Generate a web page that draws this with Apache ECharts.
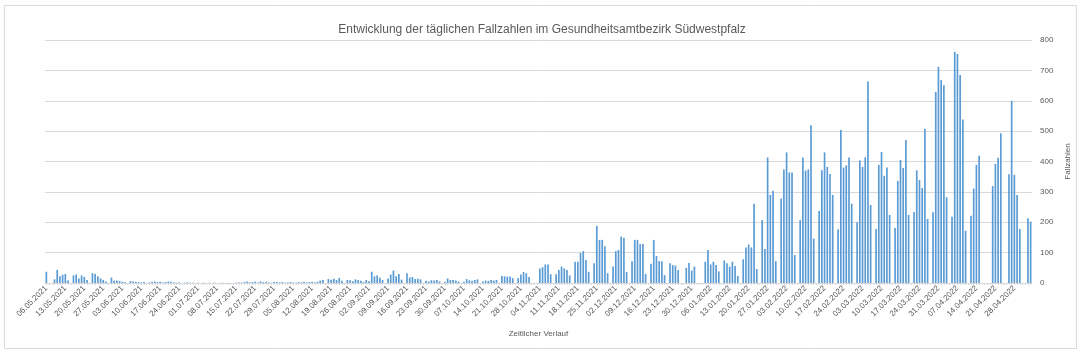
<!DOCTYPE html>
<html>
<head>
<meta charset="utf-8">
<title>Fallzahlen Südwestpfalz</title>
<script src="https://cdn.jsdelivr.net/npm/echarts@6/dist/echarts.min.js"></script>
<style>
    html, body { margin: 0; padding: 0; background: #ffffff; }
    #mychart { width: 1084px; height: 355px; }
</style>
</head>
<body>
<div id="mychart"></div>
<script>
    // erster Tag der Zeitreihe: 06.05.2021
    var startDatum = [2021, 4, 6];

    // tägliche Fallzahlen 06.05.2021 - 31.12.2021
    var faelle2021 = [
        37, 0, 0, 12, 43, 22, 27,
        30, 8, 0, 25, 28, 15, 25,
        20, 10, 0, 32, 30, 22, 15,
        10, 5, 0, 18, 8, 8, 6,
        4, 3, 0, 6, 5, 4, 3,
        2, 3, 0, 2, 4, 5, 3,
        4, 2, 3, 5, 4, 2, 1,
        2, 0, 1, 2, 1, 1, 0,
        1, 0, 1, 0, 1, 0, 1,
        0, 0, 1, 0, 1, 0, 0,
        1, 2, 1, 3, 5, 2, 3,
        4, 2, 5, 3, 4, 2, 1,
        4, 3, 2, 3, 1, 2, 3,
        2, 1, 3, 2, 4, 2, 3,
        4, 2, 4, 8, 10, 0, 13,
        11, 14, 10, 17, 7, 0, 10,
        9, 6, 12, 10, 7, 3, 10,
        6, 37, 22, 25, 17, 10, 0,
        15, 28, 41, 22, 30, 11, 0,
        32, 18, 20, 13, 14, 12, 0,
        7, 5, 9, 8, 10, 5, 0,
        4, 15, 10, 10, 8, 5, 0,
        4, 13, 9, 7, 10, 12, 0,
        5, 8, 7, 10, 8, 10, 0,
        23, 22, 21, 21, 16, 0, 16,
        28, 36, 32, 20, 0, 0, 0,
        48, 52, 61, 61, 29, 0, 29,
        43, 54, 48, 43, 25, 0, 70,
        70, 99, 105, 76, 37, 0, 65,
        188, 142, 142, 121, 32, 0, 54,
        105, 109, 153, 149, 36, 0, 72,
        142, 142, 128, 128, 30, 0, 63,
        142, 89, 72, 72, 26, 0, 65,
        59, 57, 43, 0, 0, 50, 66,
        41, 54
    ];

    // tägliche Fallzahlen 01.01.2022 - 04.05.2022
    var faelle2022 = [
        0, 0, 0, 70, 109,
        61, 70, 59, 38, 0, 74, 65,
        54, 70, 56, 23, 0, 78, 117,
        127, 117, 261, 46, 0, 207, 112,
        413, 290, 304, 72, 0, 278, 374,
        430, 364, 364, 92, 0, 207, 413,
        370, 374, 519, 146, 0, 237, 371,
        430, 382, 359, 290, 0, 177, 504,
        380, 387, 413, 261, 0, 200, 404,
        382, 414, 663, 257, 0, 178, 389,
        431, 353, 380, 224, 0, 181, 336,
        405, 379, 471, 224, 0, 234, 371,
        339, 313, 508, 211, 0, 233, 629,
        712, 668, 651, 282, 0, 218, 761,
        754, 685, 538, 172, 0, 221, 311,
        389, 419, 0, 0, 0, 0, 319,
        392, 412, 493, 0, 0, 358, 600,
        356, 290, 178, 0, 0, 213, 202
    ];

    // Werteachse
    var yMin = 0, yMax = 800, yIntervall = 100;

    var faelle = faelle2021.concat(faelle2022);

    function zweistellig(n) {
        return (n < 10 ? '0' : '') + n;
    }

    // Kategorien: ein Datum je Wert
    var tage = [];
    for (var i = 0; i < faelle.length; i++) {
        var d = new Date(Date.UTC(startDatum[0], startDatum[1], startDatum[2] + i));
        tage.push(zweistellig(d.getUTCDate()) + '.' + zweistellig(d.getUTCMonth() + 1) + '.' + d.getUTCFullYear());
    }

    var textFarbe = '#595959';
    var linienFarbe = '#d9d9d9';
    var schrift = 'Liberation Sans';

    var mychart = echarts.init(document.getElementById('mychart'));
    var option = {
        backgroundColor: '#ffffff',
        animation: false,
        title: {
            text: 'Entwicklung der täglichen Fallzahlen im Gesundheitsamtbezirk Südwestpfalz',
            left: 'center',
            top: 19,
            textStyle: {
                color: textFarbe,
                fontSize: 12,
                fontWeight: 'normal',
                fontFamily: schrift
            }
        },
        graphic: [{
            type: 'rect',
            shape: {x: 4.5, y: 5.5, width: 1072, height: 343},
            style: {fill: 'none', stroke: linienFarbe, lineWidth: 1},
            silent: true
        }],
        grid: {
            left: 45,
            right: 52,
            top: 40,
            bottom: 72
        },
        xAxis: {
            type: 'category',
            data: tage,
            boundaryGap: true,
            name: 'Zeitlicher Verlauf',
            nameLocation: 'middle',
            nameGap: 47,
            nameTextStyle: {color: textFarbe, fontSize: 8, fontFamily: schrift},
            axisLine: {lineStyle: {color: linienFarbe}},
            axisTick: {show: true, interval: 0, alignWithLabel: true, length: 2, lineStyle: {color: linienFarbe}},
            axisLabel: {
                interval: 6,
                rotate: 45,
                margin: 4,
                color: textFarbe,
                fontSize: 8,
                fontFamily: schrift
            },
            splitLine: {show: false}
        },
        yAxis: {
            type: 'value',
            position: 'right',
            min: yMin,
            max: yMax,
            interval: yIntervall,
            name: 'Fallzahlen',
            nameLocation: 'middle',
            nameRotate: 90,
            nameGap: 29,
            nameTextStyle: {color: textFarbe, fontSize: 8, fontFamily: schrift},
            axisLine: {show: false},
            axisTick: {show: false},
            axisLabel: {color: textFarbe, fontSize: 8, fontFamily: schrift, margin: 8},
            splitLine: {lineStyle: {color: linienFarbe, width: 1}}
        },
        series: [{
            type: 'bar',
            name: 'Fallzahlen',
            data: faelle,
            barWidth: '62%',
            itemStyle: {color: '#5b9bd5'}
        }]
    };
    mychart.setOption(option);
</script>
</body>
</html>
